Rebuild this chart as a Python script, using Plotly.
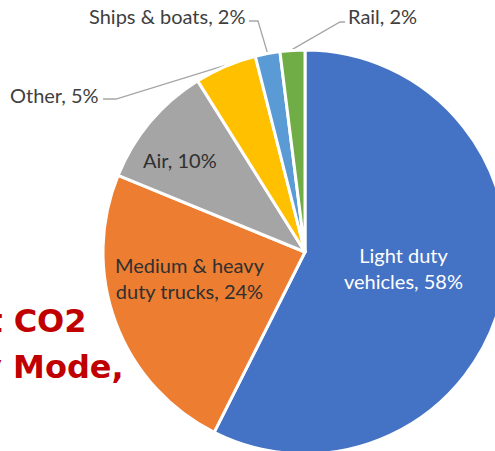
import math
import plotly.graph_objects as go

# Transport CO2 emissions by mode (share of total, %)
modes = ["Light duty vehicles", "Medium & heavy duty trucks", "Air", "Other", "Ships & boats", "Rail"]
shares = [58, 24, 10, 5, 2, 2]
label_names = ["Light duty<br>vehicles", "Medium & heavy<br>duty trucks", "Air", "Other", "Ships & boats", "Rail"]
colors = ["#4472C4", "#ED7D31", "#A5A5A5", "#FFC000", "#5B9BD5", "#70AD47"]
title_lines = ["Transport CO2", "Emissions by Mode,"]

# canvas (pixels) and pie geometry
W, H = 512, 458
CX, CY, R = 305, 252, 202


def fx(px):
    return px / W


def fy(py):
    return 1 - py / H


fig = go.Figure(
    go.Pie(
        labels=modes,
        values=shares,
        sort=False,
        direction="clockwise",
        rotation=0,
        marker=dict(colors=colors, line=dict(color="white", width=3)),
        textinfo="none",
        hoverinfo="label+value",
        domain=dict(x=[fx(CX - R), fx(CX + R)], y=[fy(CY + R), fy(CY - R)]),
        showlegend=False,
    )
)

# label layout: (x, y, xanchor, font colour, leader elbow [(x_end, y), (x_bend, y)] or None)
label_layout = [
    (403, 268, "center", "#FFFFFF", None),
    (190, 278, "center", "#303030", None),
    (180, 160, "center", "#303030", None),
    (101, 95, "right", "#404040", [(103, 99), (116, 99)]),
    (247, 16, "right", "#404040", [(249, 21), (258, 21)]),
    (346, 16, "left", "#404040", [(345, 22), (340, 22)]),
]

total = sum(shares)
cum = 0.0
annotations = []
shapes = []
for name, val, (lx, ly, anchor, fcol, leader) in zip(label_names, shares, label_layout):
    mid = (cum + val / 2) / total * 2 * math.pi
    cum += val
    annotations.append(
        dict(
            x=fx(lx), y=fy(ly), xref="paper", yref="paper",
            text=f"{name}, {val}%",
            showarrow=False, xanchor=anchor, yanchor="middle", align="center",
            font=dict(family="Lato", size=20, color=fcol),
        )
    )
    if leader:
        ax = CX + (R + 1) * math.sin(mid)
        ay = CY - (R + 1) * math.cos(mid)
        pts = leader + [(ax, ay)]
        path = "M " + " L ".join(f"{fx(px):.5f},{fy(py):.5f}" for px, py in pts)
        shapes.append(
            dict(type="path", path=path, xref="paper", yref="paper",
                 line=dict(color="#A6A6A6", width=1.3), layer="below")
        )

# red heading, partly running off the left edge
for text, (rx, ry) in zip(title_lines, [(89, 321), (126, 367)]):
    annotations.append(
        dict(
            x=fx(rx), y=fy(ry), xref="paper", yref="paper",
            text=f"<b>{text}</b>", showarrow=False, xanchor="right", yanchor="middle",
            font=dict(family="DejaVu Sans", size=32, color="#C00000"),
        )
    )

fig.update_layout(
    width=W, height=H,
    margin=dict(l=0, r=0, t=0, b=0),
    paper_bgcolor="white", plot_bgcolor="white",
    annotations=annotations, shapes=shapes,
)

fig.write_html(
    "out.html",
    post_script="document.documentElement.style.overflow='hidden';document.body.style.overflow='hidden';",
)
